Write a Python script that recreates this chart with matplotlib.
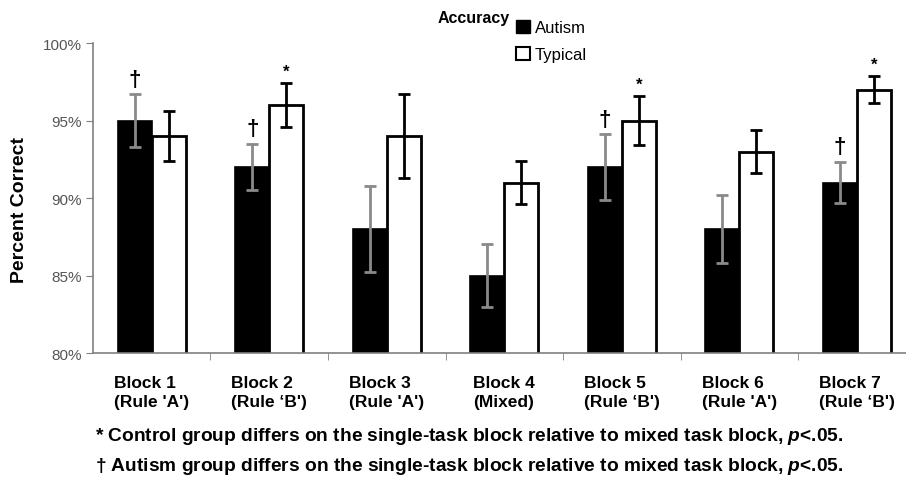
import numpy as np
import matplotlib
matplotlib.use("Agg")
from matplotlib import pyplot as plt
from matplotlib.patches import Patch

# data
blocks = ["Block 1\n(Rule 'A')", "Block 2\n(Rule \u2018B')", "Block 3\n(Rule 'A')",
          "Block 4\n(Mixed)", "Block 5\n(Rule \u2018B')", "Block 6\n(Rule 'A')",
          "Block 7\n(Rule \u2018B')"]
autism = [95, 92, 88, 85, 92, 88, 91]
typical = [94, 96, 94, 91, 95, 93, 97]
autism_err = [1.7, 1.5, 2.75, 2.05, 2.1, 2.2, 1.35]
typical_err = [1.6, 1.4, 2.7, 1.4, 1.55, 1.4, 0.85]
autism_dagger = [True, True, False, False, True, False, True]
typical_star = [False, True, False, False, True, False, True]
yticks = [80, 85, 90, 95, 100]

plt.rcParams["font.family"] = ["Liberation Sans", "DejaVu Sans"]
plt.rcParams["mathtext.fontset"] = "custom"
plt.rcParams["mathtext.it"] = "Liberation Sans:italic:bold"
plt.rcParams["mathtext.rm"] = "Liberation Sans:bold"

fig = plt.figure(figsize=(9.06, 4.81), dpi=100)
ax = fig.add_axes([0.1026, 0.264, 0.908, 0.6445])

x = np.arange(len(blocks))
w = 0.29
ax.bar(x - w / 2, autism, w, color="black", edgecolor="black", linewidth=1.2, zorder=2)
ax.bar(x + w / 2, typical, w, color="white", edgecolor="black", linewidth=2, zorder=2)
ax.errorbar(x - w / 2, autism, yerr=autism_err, fmt="none", ecolor="#8a8a8a",
            elinewidth=2, capsize=4, capthick=2, zorder=3)
ax.errorbar(x + w / 2, typical, yerr=typical_err, fmt="none", ecolor="black",
            elinewidth=2, capsize=4, capthick=2, zorder=3)

for i in range(len(blocks)):
    if autism_dagger[i]:
        ax.text(x[i] - w / 2, autism[i] + autism_err[i] + 0.3, "\u2020", ha="center",
                va="bottom", fontsize=16, fontweight="bold")
    if typical_star[i]:
        ax.text(x[i] + w / 2, typical[i] + typical_err[i] + 0.3, "*", ha="center",
                va="bottom", fontsize=12, fontweight="bold")

ax.set_xlim(-0.5, len(blocks) - 0.5)
ax.set_ylim(80, 100)
ax.set_yticks(yticks)
ax.set_yticklabels([str(v) + "%" for v in yticks], color="#555555", fontsize=11)
ax.set_xticks(x)
ax.set_xticklabels(blocks, fontsize=12.5, fontweight="bold",
                   multialignment="left", linespacing=1.35)
ax.tick_params(axis="x", which="major", length=0, pad=16)
ax.set_xticks(x[:-1] + 0.5, minor=True)
ax.tick_params(axis="x", which="minor", length=5, color="#808080", direction="out")
ax.tick_params(axis="y", length=5, color="#808080", direction="out", pad=3)

for s in ["top", "right"]:
    ax.spines[s].set_visible(False)
for s in ["left", "bottom"]:
    ax.spines[s].set_color("#808080")
    ax.spines[s].set_linewidth(1.2)

ax.set_ylabel("Percent Correct", fontsize=14, fontweight="bold")
ax.yaxis.set_label_coords(-0.079, 0.465)
fig.text(0.523, 0.962, "Accuracy", ha="center", va="center", fontsize=11.5,
         fontweight="bold")

handles = [Patch(facecolor="black", edgecolor="black", label="Autism"),
           Patch(facecolor="white", edgecolor="black", linewidth=1.5, label="Typical")]
fig.legend(handles=handles, loc="upper left", bbox_to_anchor=(0.569, 0.957),
           frameon=False, fontsize=12, handlelength=0.85, handleheight=0.85,
           handletextpad=0.3, labelspacing=0.7, borderaxespad=0.0, borderpad=0.0)

fig.text(0.105, 0.093, "* Control group differs on the single-task block relative to mixed task block, $p$<.05.",
         ha="left", va="center", fontsize=13.8, fontweight="bold")
fig.text(0.105, 0.031, "\u2020 Autism group differs on the single-task block relative to mixed task block, $p$<.05.",
         ha="left", va="center", fontsize=13.8, fontweight="bold")

fig.savefig("out.png", dpi=100)
